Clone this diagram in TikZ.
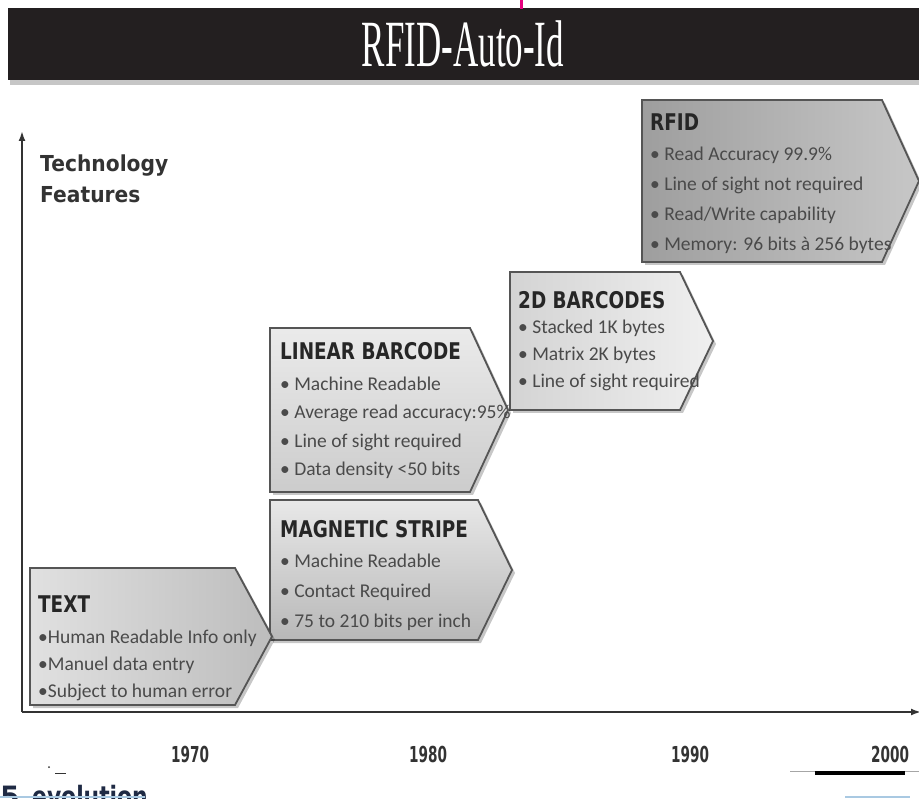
\documentclass[tikz,border=0pt]{standalone}
\usepackage{fontspec}
\setmainfont{Liberation Serif}
\newfontfamily\headsans{DejaVu Sans}
\newfontfamily\bodysans{Carlito}
\usetikzlibrary{arrows.meta}

\definecolor{barbg}{HTML}{231F20}
\definecolor{edgec}{HTML}{555555}
\definecolor{axisc}{HTML}{333333}
\definecolor{headc}{HTML}{262626}
\definecolor{bodyc}{HTML}{4A4A4A}
\definecolor{marker}{HTML}{E6007E}
\definecolor{navy}{HTML}{1F2A44}
\definecolor{paleblue}{HTML}{A9C9E2}

\tikzset{
  boxline/.style={draw=edgec, line width=1.8pt, line join=miter},
  boxshadow/.style={fill=black, fill opacity=0.22},
  boxtitle/.style={anchor=base west, inner sep=0pt, text=headc,
    font=\headsans\bfseries\fontsize{23}{23}\selectfont},
  boxitem/.style={anchor=base west, inner sep=0pt, text=bodyc,
    font=\bodysans\fontsize{19.5}{19.5}\selectfont},
  yearlabel/.style={inner sep=0pt, text=axisc,
    font=\headsans\bfseries\fontsize{22}{22}\selectfont},
  axisline/.style={draw=axisc, line width=2.4pt,
    -{Latex[length=10pt,width=7pt]}},
}

% pentagon pointing right: name, left, top, body right, tip x, bottom, fill
\newcommand\featbox[7]{%
  \coordinate (#1-nw) at (#2,#3);
  \coordinate (#1-ne) at (#4,#3);
  \coordinate (#1-tip) at (#5,{(#3+#6)/2});
  \coordinate (#1-se) at (#4,#6);
  \coordinate (#1-sw) at (#2,#6);
  \fill[boxshadow] (#2+3,#3+3) -- (#4+3,#3+3) -- (#5+3,{(#3+#6)/2+3})
    -- (#4+3,#6+3) -- (#2+3,#6+3) -- cycle;
  \draw[boxline,#7] (#1-nw) -- (#1-ne) -- (#1-tip) -- (#1-se) -- (#1-sw) -- cycle;
}
\newcommand\titem[1]{\textbullet\ #1}

\begin{document}
\begin{tikzpicture}[x=1pt,y=-1pt]
\useasboundingbox (0,0) rectangle (919,799);
\clip (0,0) rectangle (919,799);

% heading bar
\fill[gray!45] (10,80) rectangle (919,85);
\fill[barbg] (8,8) rectangle (919,80);
\draw[marker, line width=3pt] (521,0) -- (521,9);
\node[text=white, inner sep=0pt, font=\fontsize{66}{66}\selectfont]
  (heading) at (463,44) {\scalebox{0.53}[1]{RFID-Auto-Id}};

% axes
\coordinate (origin) at (22,712);
\coordinate (ytip) at (22,131);
\coordinate (xtip) at (921,712);
\draw[axisline] (origin) -- (ytip);
\draw[axisline] (origin) -- (xtip);

\node[anchor=base west, inner sep=0pt, text=axisc,
  font=\headsans\bfseries\fontsize{22}{22}\selectfont] (ylab1) at (40,172)
  {\scalebox{0.92}[1]{Technology}};
\node[anchor=base west, inner sep=0pt, text=axisc,
  font=\headsans\bfseries\fontsize{22}{22}\selectfont] (ylab2) at (40,203)
  {\scalebox{0.92}[1]{Features}};

% years
\node[yearlabel] (y1970) at (190,754) {\scalebox{0.62}[1]{1970}};
\node[yearlabel] (y1980) at (428,754) {\scalebox{0.62}[1]{1980}};
\node[yearlabel] (y1990) at (690,754) {\scalebox{0.62}[1]{1990}};
\node[yearlabel] (y2000) at (890,754) {\scalebox{0.62}[1]{2000}};

% feature boxes
\featbox{rfid}{642}{100}{882}{919}{262}{left color=black!38, right color=black!22}
\featbox{twod}{510}{272}{680}{713}{410}{left color=black!17, right color=black!6}
\featbox{lin}{270}{328}{470}{508}{492}{top color=black!8, bottom color=black!20}
\featbox{mag}{270}{500}{478}{512}{640}{top color=black!9, bottom color=black!28}
\featbox{txt}{30}{568}{235}{272}{705}{left color=black!12, right color=black!26}

% RFID
\node[boxtitle] (rfid-h) at (650,131) {\scalebox{0.8}[1]{RFID}};
\node[boxitem] (rfid-a) at (650,161) {\titem{Read Accuracy 99.9\%}};
\node[boxitem] (rfid-b) at (650,191) {\titem{Line of sight not required}};
\node[boxitem] (rfid-c) at (650,221) {\titem{Read/Write capability}};
\node[boxitem] (rfid-d) at (650,251) {\titem{Memory: 96 bits à 256 bytes}};

% 2D barcodes
\node[boxtitle] (twod-h) at (518,309) {\scalebox{0.8}[1]{2D BARCODES}};
\node[boxitem] (twod-a) at (518,334) {\titem{Stacked 1K bytes}};
\node[boxitem] (twod-b) at (518,361) {\titem{Matrix 2K bytes}};
\node[boxitem] (twod-c) at (518,388) {\titem{Line of sight required}};

% linear barcode
\node[boxtitle] (lin-h) at (280,360) {\scalebox{0.8}[1]{LINEAR BARCODE}};
\node[boxitem] (lin-a) at (280,391) {\titem{Machine Readable}};
\node[boxitem] (lin-b) at (280,419) {\titem{Average read accuracy:95\%}};
\node[boxitem] (lin-c) at (280,448) {\titem{Line of sight required}};
\node[boxitem] (lin-d) at (280,476) {\titem{Data density <50 bits}};

% magnetic stripe
\node[boxtitle] (mag-h) at (280,538) {\scalebox{0.8}[1]{MAGNETIC STRIPE}};
\node[boxitem] (mag-a) at (280,568) {\titem{Machine Readable}};
\node[boxitem] (mag-b) at (280,597) {\titem{Contact Required}};
\node[boxitem] (mag-c) at (280,627) {\titem{75 to 210 bits per inch}};

% text
\node[boxtitle] (txt-h) at (38,612) {\scalebox{0.8}[1]{TEXT}};
\node[boxitem] (txt-a) at (38,643) {\textbullet Human Readable Info only};
\node[boxitem] (txt-b) at (38,670) {\textbullet Manuel data entry};
\node[boxitem] (txt-c) at (38,697) {\textbullet Subject to human error};

% bottom fragments
\fill[axisc] (49,767) circle (1pt);
\draw[axisc, line width=1pt] (55,773) -- (66,773);
\draw[gray!70, line width=0.8pt] (790,771) -- (919,771);
\fill[black] (815,771) rectangle (905,775);
\node[anchor=base west, inner sep=0pt, text=navy,
  font=\headsans\bfseries\fontsize{28}{28}\selectfont] (sec-num) at (0,806) {5};
\node[anchor=base west, inner sep=0pt, text=navy,
  font=\headsans\bfseries\fontsize{28}{28}\selectfont] (sec-name) at (32,806)
  {\scalebox{0.78}[1]{evolution}};
\draw[paleblue, line width=1.5pt] (0,797) -- (145,797);
\draw[paleblue, line width=1.5pt] (845,797) -- (910,797);
\end{tikzpicture}
\end{document}
